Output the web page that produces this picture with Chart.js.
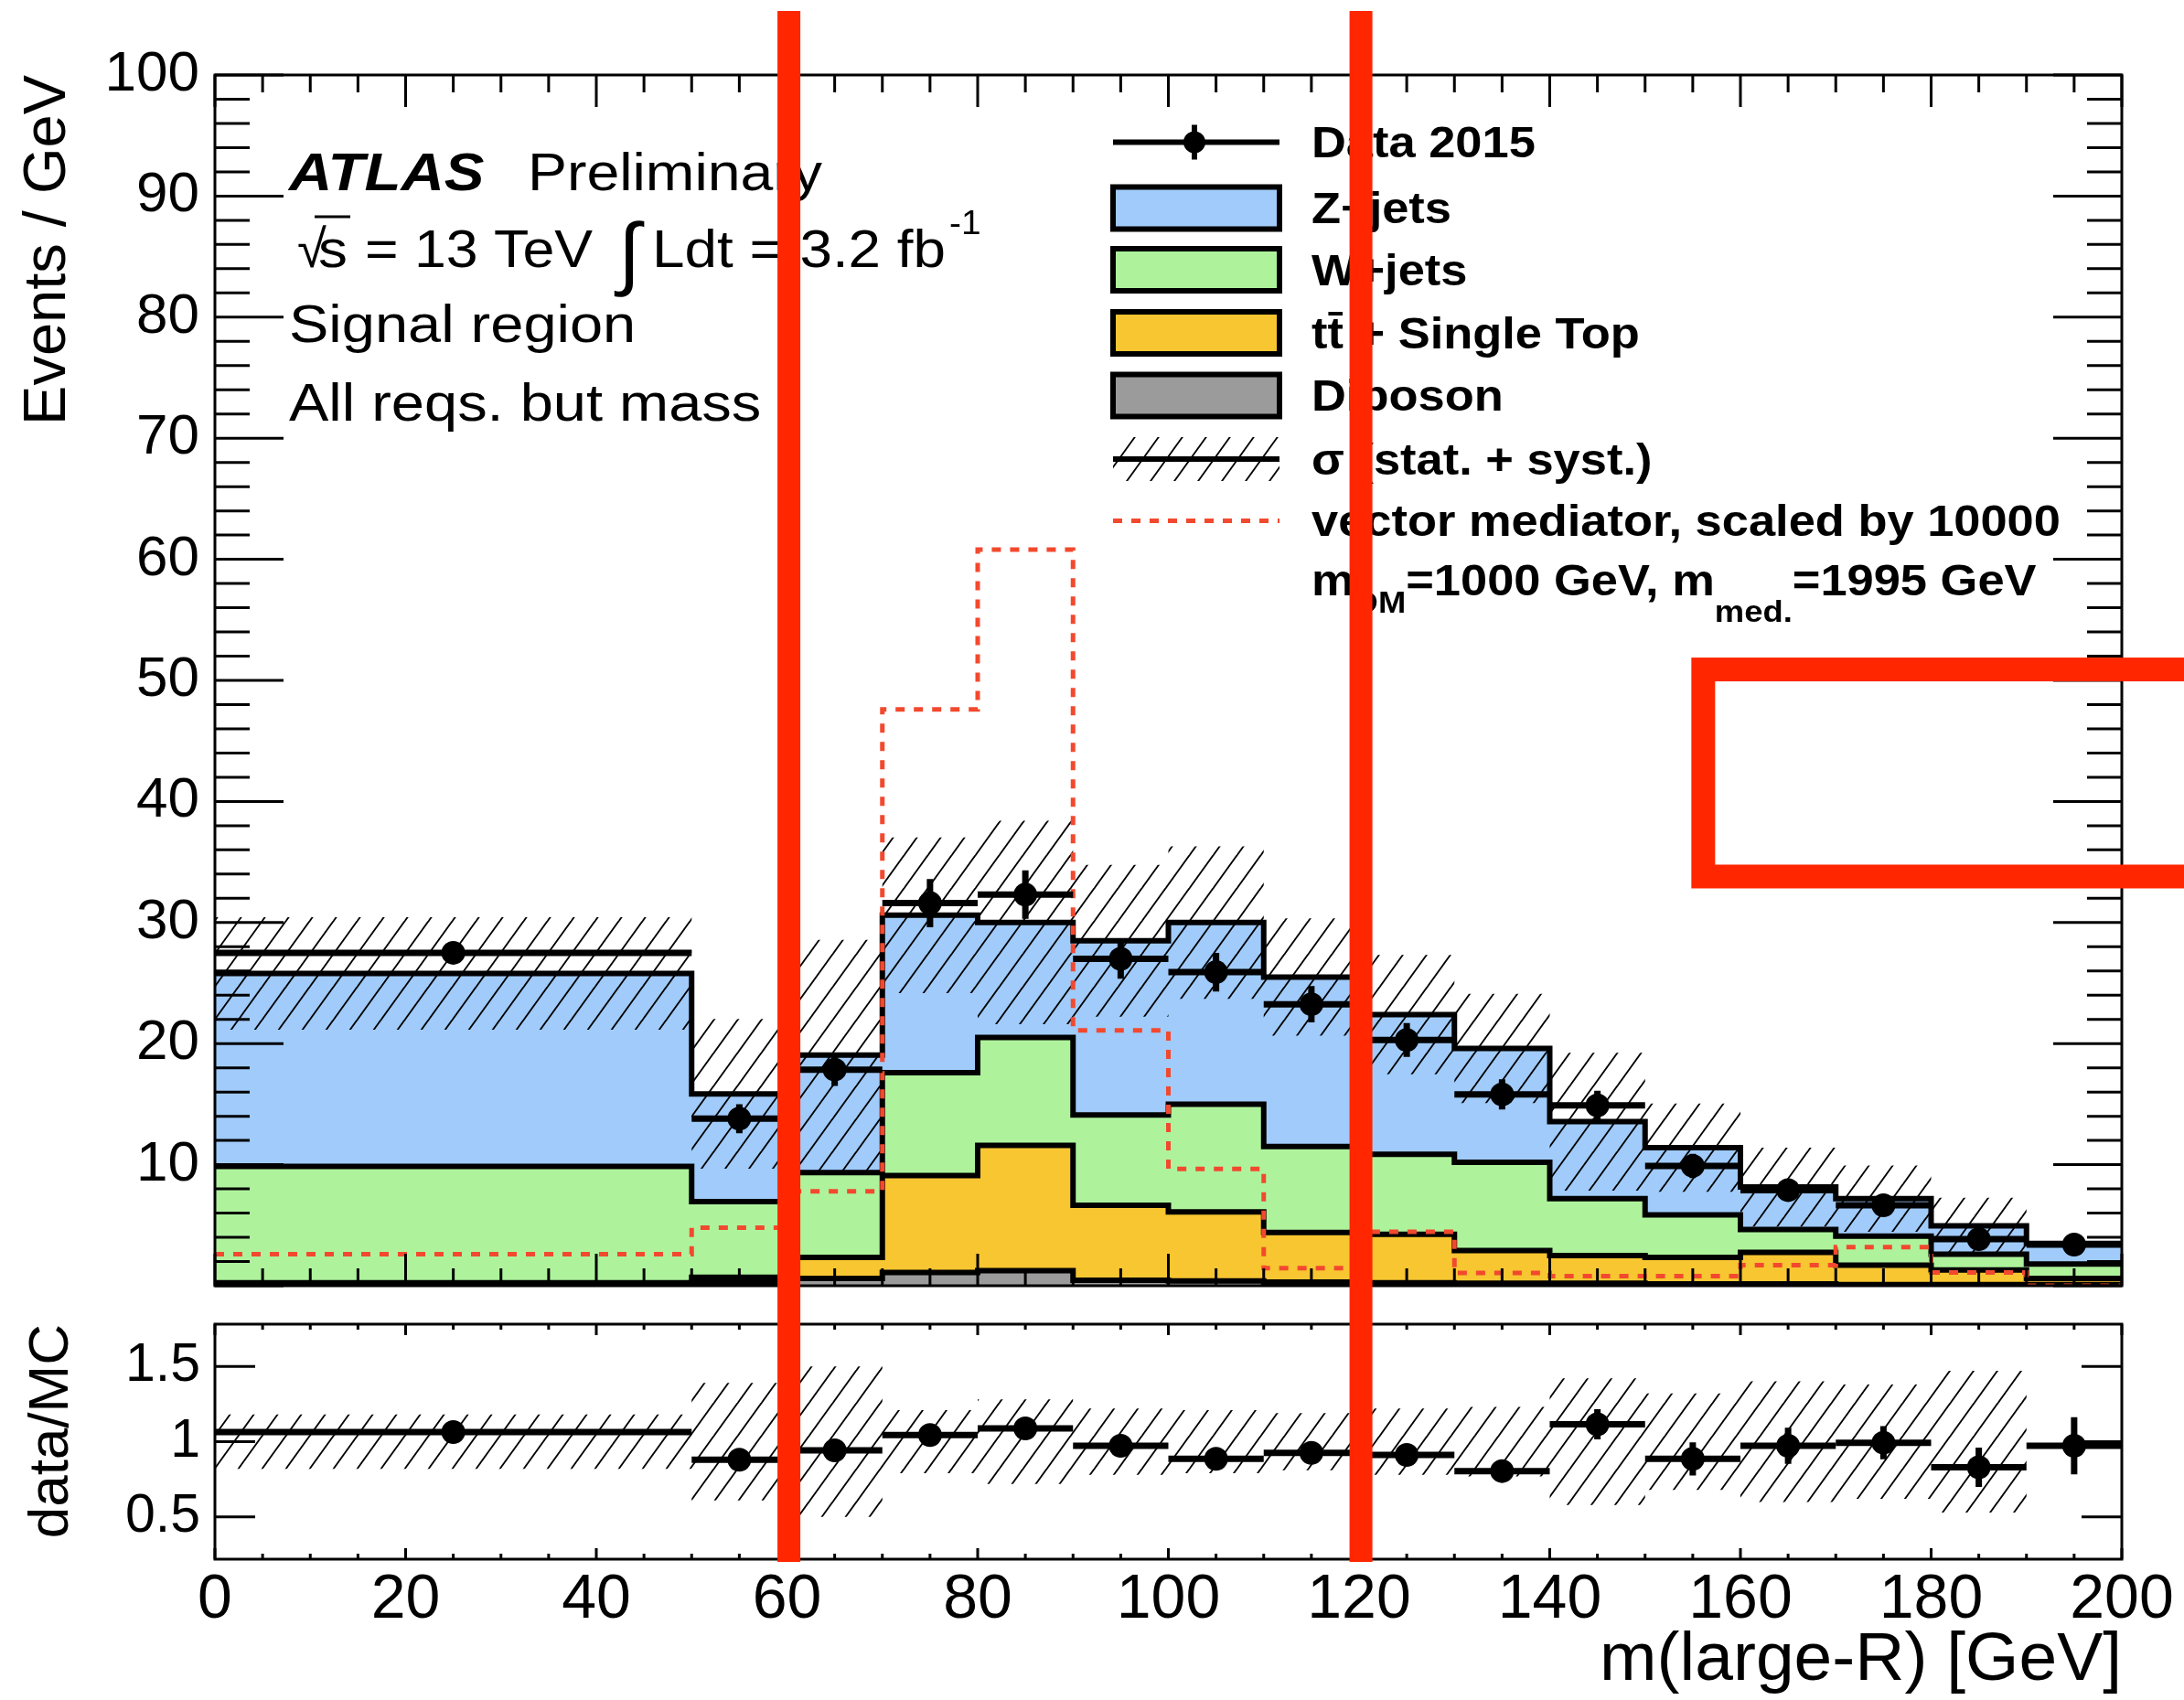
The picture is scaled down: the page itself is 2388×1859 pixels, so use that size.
<!DOCTYPE html>
<html>
<head>
<meta charset="utf-8">
<script src="https://cdn.jsdelivr.net/npm/chart.js@4.4.1/dist/chart.umd.min.js"></script>
<style>
html, body { margin: 0; padding: 0; background: #fff; }
#wrap { position: relative; width: 2388px; height: 1859px; overflow: hidden; background: #fff; }
canvas { position: absolute; left: 0; }
#main { top: 0; }
#ratio { top: 1427px; }
</style>
</head>
<body>
<div id="wrap">
  <canvas id="main" width="2388" height="1427"></canvas>
  <canvas id="ratio" width="2388" height="432"></canvas>
</div>
<script>
// histogram binning (GeV)
const binEdges = [0, 50, 60, 70, 80, 90, 100, 110, 120, 130, 140, 150, 160, 170, 180, 190, 200];
const binCentres = [25, 55, 65, 75, 85, 95, 105, 115, 125, 135, 145, 155, 165, 175, 185, 195];

// backgrounds, events / GeV (stacked bottom to top)
const diboson = [0.15, 0.3, 0.6, 1.1, 1.25, 0.45, 0.4, 0.3, 0.25, 0.2, 0.2, 0.15, 0.15, 0.1, 0.1, 0.1];
const ttbar   = [0.1, 0.4, 1.75, 8.0, 10.35, 6.2, 5.7, 4.1, 4.0, 2.7, 2.3, 2.2, 2.6, 1.6, 1.2, 0.5];
const wjets   = [9.6, 6.25, 7.0, 8.5, 8.9, 7.45, 8.9, 7.1, 6.6, 7.3, 4.7, 3.5, 1.9, 2.4, 1.3, 1.2];
const zjets   = [15.95, 8.9, 9.7, 13.0, 9.5, 14.4, 15.0, 14.0, 11.55, 9.4, 6.35, 5.55, 3.5, 3.1, 2.35, 1.7];

// relative uncertainty of the total background (stat. + syst.)
const relUnc = [0.18, 0.39, 0.5, 0.21, 0.28, 0.22, 0.21, 0.19, 0.22, 0.23, 0.42, 0.32, 0.4, 0.38, 0.47, 0];

// data
const data2015 = [27.5, 13.8, 17.85, 31.6, 32.3, 27.0, 25.9, 23.25, 20.3, 15.8, 14.9, 9.9, 7.9, 6.65, 3.85, 3.4];
const dataErr  = [0.75, 1.2, 1.35, 2.0, 2.0, 1.65, 1.6, 1.5, 1.4, 1.25, 1.2, 1.0, 0.9, 0.8, 0.6, 0.6];

// signal, vector mediator x 10000
const signal = [2.6, 4.8, 7.8, 47.6, 60.8, 21.1, 9.65, 1.45, 4.45, 1.05, 0.8, 0.8, 1.7, 3.2, 1.1, 0];

// lower panel data / MC
const ratio    = [1.064, 0.88, 0.942, 1.044, 1.088, 0.973, 0.886, 0.926, 0.912, 0.805, 1.115, 0.886, 0.973, 0.993, 0.83, 0.973];
const ratioErr = [0.03, 0.06, 0.06, 0.05, 0.05, 0.06, 0.06, 0.06, 0.06, 0.07, 0.1, 0.11, 0.12, 0.11, 0.13, 0.19];

// tick labels
const xTicks = [0, 20, 40, 60, 80, 100, 120, 140, 160, 180, 200];
const yTicksMain = [10, 20, 30, 40, 50, 60, 70, 80, 90, 100];
const yTicksRatio = [0.5, 1, 1.5];

// red marker overlay (GeV / events per GeV)
const markLines = [60.2, 120.2];
const markBox = { x: 156.1, yTop: 50.9, yBottom: 33.8 };

const legendNames = ['Data 2015', 'Z+jets', 'W+jets', 'tt\u0304 + Single Top', 'Diboson', '\u03c3 (stat. + syst.)', 'vector mediator, scaled by 10000'];

const FAM = '"Liberation Sans", Arial, Helvetica, sans-serif';
const RED = '#ff2600';
const SIG = '#f2492e';
const COL = { z: '#a0cbfa', w: '#aef39c', top: '#f7c631', vv: '#9b9b9b' };

function steps(vals) {
  const pts = binEdges.slice(0, -1).map((e, i) => ({ x: e, y: vals[i] }));
  pts.push({ x: binEdges[binEdges.length - 1], y: vals[vals.length - 1] });
  return pts;
}
function addUp(a, b) { return a.map((v, i) => v + b[i]); }

const cumVV = diboson;
const cumTop = addUp(cumVV, ttbar);
const cumW = addUp(cumTop, wjets);
const total = addUp(cumW, zjets);

function hatch(ctx) {
  const w = 26, h = 36;
  const c = document.createElement('canvas');
  c.width = w; c.height = h;
  const g = c.getContext('2d');
  g.strokeStyle = '#000';
  g.lineWidth = 1.9;
  for (let k = 0; k <= 2; k++) {
    g.beginPath();
    g.moveTo(w * (k + 1), -h);
    g.lineTo(w * (k - 2), 2 * h);
    g.stroke();
  }
  return ctx.createPattern(c, 'repeat');
}

function txt(ctx, s, x, y, size, style, sx) {
  ctx.save();
  ctx.font = style + ' ' + size + 'px ' + FAM;
  ctx.fillStyle = '#000';
  ctx.textBaseline = 'alphabetic';
  ctx.translate(x, y);
  ctx.scale(sx, 1);
  ctx.fillText(s, 0, 0);
  const w = ctx.measureText(s).width * sx;
  ctx.restore();
  return w;
}

// ROOT-like frame with inward ticks on all four sides
const frame = {
  id: 'frame',
  afterDatasetsDraw(chart, args, o) {
    const { ctx, chartArea: a, scales: { x, y } } = chart;
    ctx.save();
    ctx.strokeStyle = '#000';
    ctx.lineWidth = 3;
    ctx.strokeRect(a.left, a.top, a.right - a.left, a.bottom - a.top);
    ctx.beginPath();
    for (let v = 0; v <= 200; v += 5) {
      const px = x.getPixelForValue(v);
      const L = v % 20 === 0 ? o.xMaj : o.xMin;
      ctx.moveTo(px, a.bottom); ctx.lineTo(px, a.bottom - L);
      ctx.moveTo(px, a.top); ctx.lineTo(px, a.top + L);
    }
    o.yMinorAt.forEach(v => {
      const py = y.getPixelForValue(v);
      ctx.moveTo(a.left, py); ctx.lineTo(a.left + o.yMin, py);
      ctx.moveTo(a.right, py); ctx.lineTo(a.right - o.yMin, py);
    });
    o.yMajorAt.forEach(v => {
      const py = y.getPixelForValue(v);
      ctx.moveTo(a.left, py); ctx.lineTo(a.left + o.yMaj, py);
      ctx.moveTo(a.right, py); ctx.lineTo(a.right - o.yMaj, py);
    });
    ctx.stroke();
    ctx.restore();
  }
};

// data error bars (bin width horizontally, stat. error vertically)
const bars = {
  id: 'bars',
  afterDatasetsDraw(chart, args, o) {
    const { ctx, scales: { x, y } } = chart;
    ctx.save();
    ctx.strokeStyle = '#000';
    ctx.lineWidth = 7;
    o.vals.forEach((v, i) => {
      const py = y.getPixelForValue(v);
      const px = x.getPixelForValue(binCentres[i]);
      ctx.beginPath();
      ctx.moveTo(x.getPixelForValue(binEdges[i]), py);
      ctx.lineTo(x.getPixelForValue(binEdges[i + 1]), py);
      ctx.moveTo(px, y.getPixelForValue(v - o.errs[i]));
      ctx.lineTo(px, y.getPixelForValue(v + o.errs[i]));
      ctx.stroke();
    });
    ctx.restore();
  }
};

// legend and labels of the upper panel
const labels = {
  id: 'labels',
  afterDraw(chart) {
    const ctx = chart.ctx;
    ctx.save();
    // left block
    txt(ctx, 'ATLAS', 316, 208, 58, 'italic bold', 1.13);
    txt(ctx, 'Preliminary', 577, 208, 58, 'normal', 1.11);
    txt(ctx, '\u221a', 325, 292, 58, 'normal', 1.0);
    txt(ctx, 's', 348, 292, 58, 'normal', 1.1);
    ctx.strokeStyle = '#000'; ctx.lineWidth = 3;
    ctx.beginPath(); ctx.moveTo(344, 237); ctx.lineTo(383, 237); ctx.stroke();
    txt(ctx, '= 13 TeV', 399, 292, 58, 'normal', 1.08);
    txt(ctx, '\u222b', 676, 306, 88, 'normal', 1.0);
    const wl = txt(ctx, 'Ldt = 3.2 fb', 713, 292, 58, 'normal', 1.1);
    txt(ctx, '-1', 713 + wl + 4, 256, 36, 'normal', 1.08);
    txt(ctx, 'Signal region', 316, 374, 58, 'normal', 1.12);
    txt(ctx, 'All reqs. but mass', 316, 460, 58, 'normal', 1.12);

    // legend
    const lx0 = 1217, lx1 = 1399, tx = 1434;
    const rows = [155.5, 227.5, 295, 364, 432.5, 502, 569.6, 637];
    ctx.lineWidth = 6; ctx.strokeStyle = '#000'; ctx.fillStyle = '#000';
    ctx.beginPath(); ctx.moveTo(lx0, rows[0]); ctx.lineTo(lx1, rows[0]);
    ctx.moveTo(1306, rows[0] - 19); ctx.lineTo(1306, rows[0] + 19); ctx.stroke();
    ctx.beginPath(); ctx.arc(1306, rows[0], 12, 0, Math.PI * 2); ctx.fill();
    [COL.z, COL.w, COL.top, COL.vv].forEach((c, i) => {
      const cy = rows[i + 1];
      ctx.fillStyle = c;
      ctx.fillRect(lx0, cy - 23, lx1 - lx0, 46);
      ctx.lineWidth = 6; ctx.strokeStyle = '#000';
      ctx.strokeRect(lx0, cy - 23, lx1 - lx0, 46);
    });
    ctx.fillStyle = hatch(ctx);
    ctx.fillRect(lx0, rows[5] - 24, lx1 - lx0, 48);
    ctx.lineWidth = 6; ctx.strokeStyle = '#000';
    ctx.beginPath(); ctx.moveTo(lx0, rows[5]); ctx.lineTo(lx1, rows[5]); ctx.stroke();
    ctx.lineWidth = 5; ctx.strokeStyle = SIG; ctx.setLineDash([10, 10]);
    ctx.beginPath(); ctx.moveTo(lx0, rows[6]); ctx.lineTo(lx1, rows[6]); ctx.stroke();
    ctx.setLineDash([]);
    legendNames.forEach((n, i) => txt(ctx, n, tx, rows[i] + 16.5, 49, 'bold', 1.07));
    let x = tx;
    const base = 651;
    x += txt(ctx, 'm', x, base, 49, 'bold', 1.07);
    x += txt(ctx, 'DM', x, base + 19, 34, 'bold', 1.07);
    x += txt(ctx, '=1000 GeV, m', x, base, 49, 'bold', 1.07);
    x += txt(ctx, 'med.', x, base + 29, 34, 'bold', 1.07);
    txt(ctx, '=1995 GeV', x, base, 49, 'bold', 1.07);
    ctx.restore();
  }
};

// red overlay marks
const marks = {
  id: 'marks',
  afterDraw(chart, args, o) {
    const { ctx, scales: { x, y }, chartArea: a } = chart;
    ctx.save();
    ctx.fillStyle = RED;
    const bottom = o.toAxis ? a.bottom + 3 : chart.height;
    markLines.forEach(g => {
      const px = x.getPixelForValue(g);
      ctx.fillRect(px - 12.5, o.top, 25, bottom - o.top);
    });
    if (o.box) {
      ctx.strokeStyle = RED;
      ctx.lineWidth = 26;
      const bx = x.getPixelForValue(markBox.x);
      const t = y.getPixelForValue(markBox.yTop);
      const b = y.getPixelForValue(markBox.yBottom);
      ctx.strokeRect(bx, t, 1000, b - t);
    }
    ctx.restore();
  }
};

const fixedTicks = list => scale => { scale.ticks = list.map(v => ({ value: v })); };
const numLabel = v => String(v);
const noLine = { borderColor: 'rgba(0,0,0,0)', borderWidth: 0, pointRadius: 0, stepped: true };
const histo = { borderColor: '#000', borderWidth: 6, pointRadius: 0, stepped: true };

const mainCtx = document.getElementById('main').getContext('2d');
new Chart(mainCtx, {
  type: 'line',
  data: {
    datasets: [
      { label: 'Data 2015', data: binCentres.map((c, i) => ({ x: c, y: data2015[i] })), showLine: false,
        pointRadius: 13, pointBackgroundColor: '#000', pointBorderWidth: 0, pointHoverRadius: 13 },
      { label: 'signal', data: steps(signal), stepped: true, borderColor: SIG, borderWidth: 5,
        borderDash: [10, 10], pointRadius: 0, fill: false },
      Object.assign({ label: 'band up', data: steps(total.map((t, i) => t * (1 + relUnc[i]))),
        fill: '+1', backgroundColor: hatch(mainCtx) }, noLine),
      Object.assign({ label: 'band down', data: steps(total.map((t, i) => t * (1 - relUnc[i]))), fill: false }, noLine),
      Object.assign({ label: 'Diboson', data: steps(cumVV), fill: 'origin', backgroundColor: COL.vv }, histo),
      Object.assign({ label: 'ttbar', data: steps(cumTop), fill: '-1', backgroundColor: COL.top }, histo),
      Object.assign({ label: 'W+jets', data: steps(cumW), fill: '-1', backgroundColor: COL.w }, histo),
      Object.assign({ label: 'Z+jets', data: steps(total), fill: '-1', backgroundColor: COL.z }, histo)
    ]
  },
  options: {
    responsive: false, animation: false, devicePixelRatio: 1, events: [],
    layout: { padding: { left: 0, right: 68, top: 82, bottom: 21 } },
    plugins: {
      legend: { display: false }, tooltip: { enabled: false },
      frame: { xMaj: 35, xMin: 19, yMaj: 75, yMin: 38,
        yMajorAt: [0, 10, 20, 30, 40, 50, 60, 70, 80, 90, 100],
        yMinorAt: Array.from({ length: 51 }, (_, i) => i * 2) },
      bars: { vals: data2015, errs: dataErr },
      marks: { top: 12, box: true, toAxis: false }
    },
    scales: {
      x: { type: 'linear', min: 0, max: 200, display: false },
      y: {
        type: 'linear', min: 0, max: 100,
        afterFit: s => { s.width = 235; },
        afterBuildTicks: fixedTicks(yTicksMain),
        grid: { display: false }, border: { display: false },
        ticks: { color: '#000', font: { family: FAM, size: 62, lineHeight: 0.3 }, padding: 9, autoSkip: false, callback: numLabel },
        title: { display: true, text: 'Events / GeV', align: 'end', color: '#000',
          font: { family: FAM, size: 65, lineHeight: 1 }, padding: { top: 21, bottom: 0 } }
      }
    }
  },
  plugins: [frame, bars, labels, marks]
});

const ratioCtx = document.getElementById('ratio').getContext('2d');
new Chart(ratioCtx, {
  type: 'line',
  data: {
    datasets: [
      { label: 'data/MC', data: binCentres.map((c, i) => ({ x: c, y: ratio[i] })), showLine: false,
        pointRadius: 13, pointBackgroundColor: '#000', pointBorderWidth: 0, pointHoverRadius: 13 },
      Object.assign({ label: 'unc up', data: steps(relUnc.map(r => 1 + r)), fill: '+1',
        backgroundColor: hatch(ratioCtx) }, noLine),
      Object.assign({ label: 'unc down', data: steps(relUnc.map(r => 1 - r)), fill: false }, noLine)
    ]
  },
  options: {
    responsive: false, animation: false, devicePixelRatio: 1, events: [],
    layout: { padding: { left: 0, right: 68, top: 21, bottom: 0 } },
    plugins: {
      legend: { display: false }, tooltip: { enabled: false },
      frame: { xMaj: 12, xMin: 6, yMaj: 44, yMin: 0, yMajorAt: yTicksRatio, yMinorAt: [] },
      bars: { vals: ratio, errs: ratioErr },
      marks: { top: 0, box: false, toAxis: true }
    },
    scales: {
      x: {
        type: 'linear', min: 0, max: 200,
        afterFit: s => { s.height = 154; },
        afterBuildTicks: fixedTicks(xTicks),
        grid: { display: false }, border: { display: false },
        ticks: { color: '#000', font: { family: FAM, size: 68, lineHeight: 1.1 }, padding: 0,
          autoSkip: false, maxRotation: 0, minRotation: 0, callback: numLabel },
        title: { display: true, text: 'm(large-R) [GeV]', align: 'end', color: '#000',
          font: { family: FAM, size: 75, lineHeight: 1 }, padding: { top: 0, bottom: 5 } }
      },
      y: {
        type: 'linear', min: 0.22, max: 1.78,
        afterFit: s => { s.width = 235; },
        afterBuildTicks: fixedTicks(yTicksRatio),
        grid: { display: false }, border: { display: false },
        ticks: { color: '#000', font: { family: FAM, size: 59, lineHeight: 0.3 }, padding: 8, autoSkip: false, callback: numLabel },
        title: { display: true, text: 'data/MC', align: 'end', color: '#000',
          font: { family: FAM, size: 62, lineHeight: 1 }, padding: { top: 26, bottom: 0 } }
      }
    }
  },
  plugins: [frame, bars, marks]
});
</script>
</body>
</html>
